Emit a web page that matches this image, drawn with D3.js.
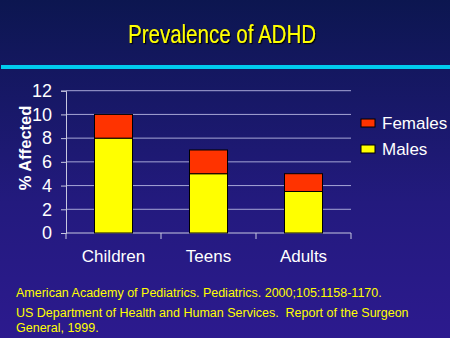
<!DOCTYPE html>
<html><head><meta charset="utf-8">
<script src="https://cdn.jsdelivr.net/npm/d3@7"></script>
<style>html,body{margin:0;padding:0;background:#1a1a6a;}svg{display:block;}</style>
</head><body>
<script>
const categories = ["Children", "Teens", "Adults"];
const males = [8, 5, 3.5];
const females = [2, 2, 1.5];
const yTicks = [0, 2, 4, 6, 8, 10, 12];
const seriesNames = ["Females", "Males"];
const seriesColors = ["#ff3300", "#ffff00"];
const title = "Prevalence of ADHD";
const yLabel = "% Affected";
const footnotes = ["American Academy of Pediatrics. Pediatrics. 2000;105:1158-1170.",
  "US Department of Health and Human Services.  Report of the Surgeon",
  "General, 1999."];

(function () {
const W = 450, H = 338;
const svg = d3.select("body").append("svg").attr("width", W).attr("height", H);
const defs = svg.append("defs");
const g = defs.append("linearGradient").attr("id", "bg").attr("x1", 0).attr("y1", 0).attr("x2", 0).attr("y2", 1);
g.append("stop").attr("offset", "0").attr("stop-color", "#0c1650");
g.append("stop").attr("offset", "0.6").attr("stop-color", "#231a7e");
g.append("stop").attr("offset", "1").attr("stop-color", "#2c1a8e");
svg.append("rect").attr("width", W).attr("height", H).attr("fill", "url(#bg)");

const shadow = defs.append("filter").attr("id", "sh").attr("x", "-10%").attr("y", "-20%").attr("width", "120%").attr("height", "150%");
shadow.append("feDropShadow").attr("dx", 1.2).attr("dy", 1.2).attr("stdDeviation", 0.3).attr("flood-color", "#000").attr("flood-opacity", 0.9);
svg.append("text").attr("x", 222).attr("y", 43).attr("text-anchor", "middle")
  .attr("font-family", "Liberation Sans, Arial, sans-serif")
  .attr("font-size", 26).attr("textLength", 188).attr("lengthAdjust", "spacingAndGlyphs")
  .attr("fill", "#ffff00").attr("filter", "url(#sh)").text(title);
svg.append("rect").attr("x", 1).attr("y", 65).attr("width", W - 1).attr("height", 4).attr("fill", "#00ccee");

const mL = 66, mR = 351, mT = 90.7, mB = 233;
const x = d3.scaleBand().domain(categories).range([mL, mR]).paddingInner(0.6).paddingOuter(0.3);
const y = d3.scaleLinear().domain([0, 12]).range([mB, mT]);

svg.append("g").selectAll("line").data(yTicks.filter(d => d > 0)).join("line")
  .attr("x1", mL).attr("x2", mR).attr("y1", d => y(d)).attr("y2", d => y(d))
  .attr("stroke", "#a6a6d6").attr("stroke-width", 1);

const ya = svg.append("g").attr("transform", `translate(${mL},0)`)
  .call(d3.axisLeft(y).tickValues(yTicks).tickSize(5).tickPadding(9));
ya.select(".domain").attr("stroke", "#c8c8e0");
ya.selectAll(".tick line").attr("stroke", "#c8c8e0");
ya.selectAll("text").attr("fill", "#fff").attr("font-size", 18).attr("font-family", "Liberation Sans, Arial, sans-serif");

const xPos = d3.scalePoint().domain(d3.range(4)).range([mL, mR]);
const xa = svg.append("g").attr("transform", `translate(0,${mB})`);
xa.append("line").attr("x1", mL).attr("x2", mR).attr("stroke", "#c8c8e0");
xa.selectAll(".tk").data(d3.range(4)).join("line").attr("class", "tk")
  .attr("x1", d => xPos(d)).attr("x2", d => xPos(d)).attr("y1", 0).attr("y2", 6).attr("stroke", "#c8c8e0");
xa.selectAll("text").data(categories).join("text")
  .attr("x", d => x(d) + x.bandwidth() / 2).attr("y", 29).attr("text-anchor", "middle")
  .attr("fill", "#fff").attr("font-size", 17).attr("font-family", "Liberation Sans, Arial, sans-serif").text(d => d);

const stackData = categories.map((c, i) => ({cat: c, Males: males[i], Females: females[i]}));
const stack = d3.stack().keys(["Males", "Females"])(stackData);
const color = d3.scaleOrdinal().domain(seriesNames).range(seriesColors);
svg.append("g").selectAll("g").data(stack).join("g").attr("fill", d => color(d.key))
  .selectAll("rect").data(d => d).join("rect")
  .attr("x", d => x(d.data.cat)).attr("width", x.bandwidth())
  .attr("y", d => y(d[1])).attr("height", d => y(d[0]) - y(d[1]))
  .attr("stroke", "#000").attr("stroke-width", 1);

svg.append("text").attr("transform", "translate(30.5,148) rotate(-90)").attr("text-anchor", "middle")
  .attr("fill", "#fff").attr("font-size", 16.5).attr("font-weight", "bold")
  .attr("font-family", "Liberation Sans, Arial, sans-serif").text(yLabel);

const lg = svg.append("g").selectAll("g").data(seriesNames).join("g")
  .attr("transform", (d, i) => `translate(361,${119 + i * 26})`);
lg.append("rect").attr("width", 14).attr("height", 8).attr("fill", d => color(d)).attr("stroke", "#000");
lg.append("text").attr("x", 21).attr("y", 10).attr("fill", "#fff").attr("font-size", 17)
  .attr("font-family", "Liberation Sans, Arial, sans-serif").text(d => d);

svg.append("g").selectAll("text").data(footnotes).join("text")
  .attr("x", 16).attr("y", (d, i) => [297, 317, 332][i]).attr("fill", "#ffff00")
  .style("white-space", "pre")
  .attr("font-size", 12.5).attr("font-family", "Liberation Sans, Arial, sans-serif").text(d => d);
})();
</script>
</body></html>
